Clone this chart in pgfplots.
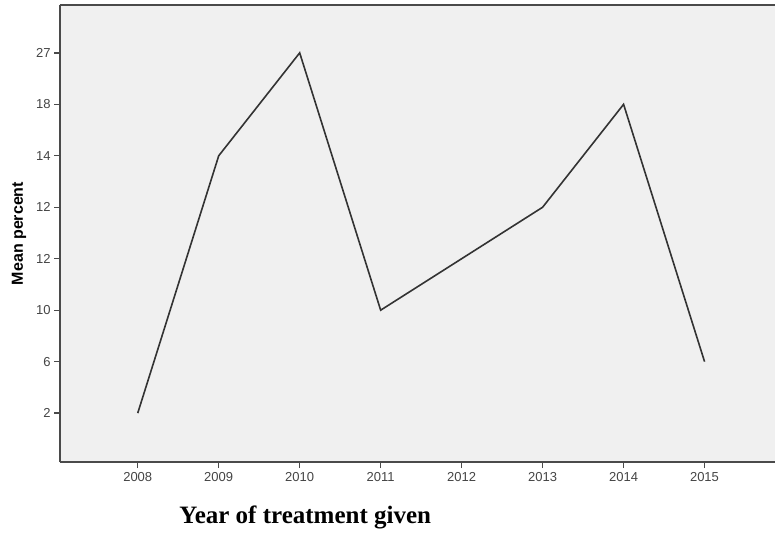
\documentclass[border=0pt]{standalone}
\usepackage{fontspec}
\setmainfont{Liberation Serif}
\setsansfont{Liberation Sans}
\usepackage{pgfplots}
\pgfplotsset{compat=1.18}
\definecolor{bg}{HTML}{F0F0F0}
\definecolor{axc}{HTML}{4A4A4A}
\definecolor{tickc}{HTML}{444444}
\definecolor{linec}{HTML}{333333}
\begin{document}
\begin{tikzpicture}
\begin{axis}[
  scale only axis,
  width=715bp, height=457bp,
  xmin=2007.04, xmax=2015.87,
  ymin=0.05, ymax=8.93,
  axis background/.style={fill=bg},
  axis x line=box, axis y line=left,
  axis line style={-, draw=axc, line width=1.3bp},
  xtick={2008,...,2015},
  ytick={1,...,8},
  yticklabels={2,6,10,12,12,14,18,27},
  xtick pos=bottom, ytick pos=left,
  tick align=outside,
  major tick length=6bp,
  tick style={draw=axc, line width=1.3bp},
  /pgf/number format/1000 sep={},
  /pgf/number format/assume math mode=true,
  tick label style={font=\sffamily\fontsize{13bp}{15bp}\selectfont, text=tickc},
  xticklabel style={yshift=-1bp},
  ylabel={Mean percent},
  ylabel style={at={(axis description cs:-0.0573,0.5)}, anchor=center,
    font=\sffamily\bfseries\fontsize{16bp}{18bp}\selectfont, text=black},
  xlabel={Year of treatment given},
  xlabel style={at={(axis description cs:0.343,0)}, anchor=north, yshift=-44bp, inner sep=0pt,
    font=\rmfamily\bfseries\fontsize{25bp}{28bp}\selectfont},
  clip=false,
]
\addplot[linec, line width=1.6bp, mark=none] coordinates {
  (2008,1) (2009,6) (2010,8) (2011,3) (2012,4) (2013,5) (2014,7) (2015,2)
};
\end{axis}
\pgfresetboundingbox
\path ([shift={(-60bp,-71bp)}]current axis.south west) rectangle ([shift={(0bp,5bp)}]current axis.north east);
\end{tikzpicture}
\end{document}
